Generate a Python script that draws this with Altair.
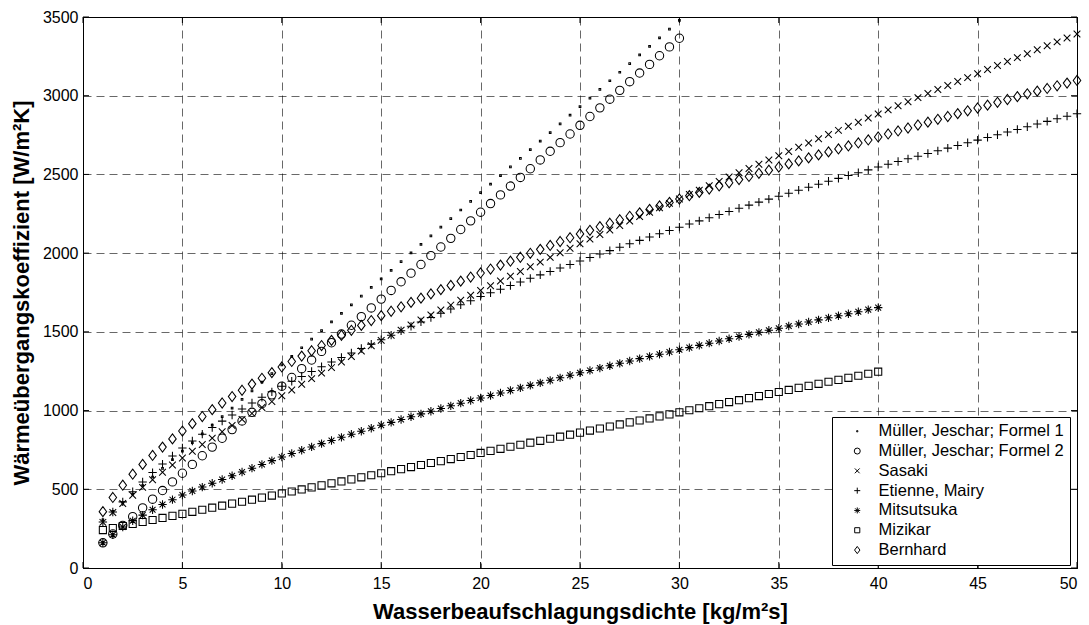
import altair as alt
import pandas as pd

SERIES = ["Müller, Jeschar; Formel 1", "Müller, Jeschar; Formel 2", "Sasaki",
          "Etienne, Mairy", "Mitsutsuka", "Mizikar", "Bernhard"]

# values read at x = 1, 1.5, 2, ... (step 0.5)
muller1 = [305, 360, 414, 469, 524, 578, 633, 688, 742, 797, 852, 907, 961, 1016, 1071,
           1125, 1180, 1235, 1290, 1344, 1399, 1454, 1508, 1563, 1618, 1672, 1727, 1782,
           1836, 1891, 1946, 2001, 2055, 2110, 2165, 2219, 2274, 2329, 2384, 2438, 2493,
           2548, 2602, 2657, 2712, 2766, 2821, 2876, 2930, 2985, 3040, 3095, 3149, 3204,
           3259, 3313, 3368, 3423, 3478]
muller2 = [160, 216, 271, 326, 382, 437, 492, 547, 602, 658, 713, 768, 824, 879, 934, 989,
           1044, 1100, 1155, 1210, 1266, 1321, 1376, 1431, 1486, 1542, 1597, 1652, 1708,
           1763, 1818, 1873, 1928, 1984, 2039, 2094, 2150, 2205, 2260, 2315, 2370, 2426,
           2481, 2536, 2592, 2647, 2702, 2757, 2812, 2868, 2923, 2978, 3034, 3089, 3144,
           3199, 3254, 3310, 3365]
sasaki = [290, 352, 410, 462, 512, 561, 608, 654, 699,
          742, 784, 825, 865, 905, 944, 982, 1020, 1057, 1094,
          1131, 1167, 1203, 1238, 1273, 1308, 1343, 1378, 1412, 1446,
          1479, 1511, 1543, 1575, 1607, 1639, 1670, 1701, 1732, 1763,
          1793, 1823, 1853, 1883, 1913, 1943, 1973, 2002, 2031, 2060,
          2089, 2118, 2147, 2176, 2204, 2232, 2260, 2288, 2316, 2344,
          2372, 2400, 2428, 2456, 2484, 2511, 2538, 2565, 2592, 2619,
          2646, 2673, 2700, 2727, 2754, 2780, 2806, 2832, 2858, 2884,
          2910, 2936, 2962, 2988, 3014, 3040, 3065, 3090, 3115, 3140,
          3166, 3192, 3217, 3242, 3267, 3292, 3317, 3342, 3367, 3392]
etienne = [292, 356, 420, 484, 546, 606, 660, 712, 762,
           807, 850, 892, 933, 972, 1010, 1048, 1084, 1119, 1154,
           1186, 1217, 1248, 1278, 1308, 1337, 1366, 1394, 1422, 1450,
           1479, 1507, 1535, 1563, 1591, 1618, 1645, 1672, 1698, 1725,
           1748, 1771, 1794, 1817, 1840, 1862, 1884, 1906, 1928, 1950,
           1972, 1994, 2016, 2038, 2060, 2081, 2102, 2123, 2144, 2165,
           2185, 2205, 2225, 2245, 2265, 2285, 2305, 2324, 2343, 2362,
           2381, 2400, 2419, 2438, 2457, 2475, 2493, 2511, 2529, 2547,
           2565, 2582, 2599, 2616, 2633, 2650, 2667, 2684, 2701, 2718,
           2735, 2752, 2769, 2786, 2803, 2820, 2837, 2854, 2870, 2886]
mitsutsuka = [160, 211, 260, 300, 336, 370, 403, 434, 464,
              489, 514, 538, 562, 586, 610, 634, 658, 682, 705,
              727, 748, 769, 790, 810, 830, 850, 869, 888, 907,
              925, 943, 961, 979, 996, 1013, 1030, 1047, 1064, 1080,
              1096, 1112, 1128, 1144, 1160, 1176, 1192, 1208, 1224, 1240,
              1255, 1270, 1285, 1300, 1315, 1330, 1344, 1358, 1372, 1386,
              1400, 1414, 1428, 1442, 1456, 1470, 1484, 1497, 1510, 1523,
              1537, 1550, 1563, 1576, 1589, 1602, 1615, 1628, 1641, 1654]
mizikar = [241, 254, 267, 280, 292, 305, 318, 331, 344, 357,
           370, 383, 396, 409, 421, 434, 447, 460, 473, 486,
           499, 512, 525, 538, 550, 563, 576, 589, 602, 615,
           628, 641, 654, 667, 679, 692, 705, 718, 731, 744,
           757, 770, 783, 796, 808, 821, 834, 847, 860, 873,
           886, 899, 912, 925, 937, 950, 963, 976, 989, 1002,
           1015, 1028, 1041, 1054, 1066, 1079, 1092, 1105, 1118, 1131,
           1144, 1157, 1170, 1183, 1195, 1208, 1221, 1234, 1247]
bernhard = [358, 448, 526, 596, 658, 715, 768, 820, 870,
            917, 962, 1006, 1048, 1089, 1129, 1168, 1205, 1241, 1277,
            1312, 1346, 1380, 1413, 1446, 1478, 1510, 1541, 1572, 1603,
            1631, 1659, 1687, 1714, 1741, 1768, 1795, 1822, 1848, 1874,
            1899, 1924, 1949, 1974, 1999, 2024, 2049, 2074, 2098, 2122,
            2145, 2168, 2190, 2212, 2234, 2256, 2278, 2300, 2322, 2344,
            2365, 2386, 2407, 2427, 2447, 2467, 2487, 2507, 2527, 2547,
            2567, 2586, 2605, 2624, 2643, 2662, 2681, 2700, 2719, 2738,
            2757, 2776, 2795, 2814, 2832, 2850, 2868, 2886, 2904, 2922,
            2940, 2958, 2976, 2994, 3012, 3029, 3046, 3063, 3080, 3097]

X_TICKS = [0, 5, 10, 15, 20, 25, 30, 35, 40, 45, 50]
Y_TICKS = [0, 500, 1000, 1500, 2000, 2500, 3000, 3500]
X_TITLE = "Wasserbeaufschlagungsdichte [kg/m²s]"
Y_TITLE = "Wärmeübergangskoeffizient [W/m²K]"

SHAPES = [
    "M-0.2,-0.2L0.2,-0.2L0.2,0.2L-0.2,0.2Z",                      # dot
    "circle",                                                      # o
    "M-0.8,-0.8L0.8,0.8M-0.8,0.8L0.8,-0.8",                        # x
    "M-1,0L1,0M0,-1L0,1",                                          # +
    "M-1,0L1,0M0,-1L0,1M-0.7,-0.7L0.7,0.7M-0.7,0.7L0.7,-0.7",      # *
    "M-0.85,-0.85L0.85,-0.85L0.85,0.85L-0.85,0.85Z",               # square
    "M0,-1.2L0.9,0L0,1.2L-0.9,0Z",                                 # diamond
]

rows = []
for name, vals in zip(SERIES, [muller1, muller2, sasaki, etienne, mitsutsuka, mizikar, bernhard]):
    for i, v in enumerate(vals):
        rows.append({"x": 1 + 0.5 * i, "y": v, "series": name})
df = pd.DataFrame(rows)

W, H = 994, 551
FONT = "Liberation Sans"
xscale = alt.Scale(domain=[0, 50], nice=False, zero=False)
yscale = alt.Scale(domain=[0, 3500], nice=False)
xaxis = alt.Axis(values=X_TICKS, title=X_TITLE, format="d", titlePadding=10, labelPadding=7)
yaxis = alt.Axis(values=Y_TICKS, title=Y_TITLE, format="d", titlePadding=9, labelPadding=5)

points = alt.Chart(df).mark_point(
    filled=False, size=70, strokeWidth=1.05, color="black", opacity=1
).encode(
    x=alt.X("x:Q", scale=xscale, axis=xaxis),
    y=alt.Y("y:Q", scale=yscale, axis=yaxis),
    shape=alt.Shape("series:N", scale=alt.Scale(domain=SERIES, range=SHAPES),
                    legend=alt.Legend(title=None, orient="none", legendX=749, legendY=400,
                                      fillColor="white", strokeColor="black", padding=6,
                                      labelFont=FONT, labelFontSize=16.5, labelColor="black",
                                      labelLimit=400,
                                      symbolSize=36, symbolStrokeWidth=1,
                                      symbolStrokeColor="black", rowPadding=2.8,
                                      symbolOffset=11, labelOffset=13)),
)

xt = pd.DataFrame({"x": X_TICKS})
yt = pd.DataFrame({"y": Y_TICKS})
tick_style = dict(color="black", strokeWidth=1)
bottom_ticks = alt.Chart(xt).mark_rule(**tick_style).encode(
    x=alt.X("x:Q", scale=xscale, axis=xaxis), y=alt.value(H), y2=alt.value(H - 6))
top_ticks = alt.Chart(xt).mark_rule(**tick_style).encode(
    x=alt.X("x:Q", scale=xscale, axis=xaxis), y=alt.value(0), y2=alt.value(6))
left_ticks = alt.Chart(yt).mark_rule(**tick_style).encode(
    y=alt.Y("y:Q", scale=yscale, axis=yaxis), x=alt.value(0), x2=alt.value(6))
right_ticks = alt.Chart(yt).mark_rule(**tick_style).encode(
    y=alt.Y("y:Q", scale=yscale, axis=yaxis), x=alt.value(W), x2=alt.value(W - 6))

chart = alt.layer(points, bottom_ticks, top_ticks, left_ticks, right_ticks).properties(
    width=W, height=H,
    autosize=alt.AutoSizeParams(type="none"),
    padding={"left": 83, "top": 17, "right": 12, "bottom": 57},
    background="white",
).configure_view(
    stroke="black", strokeWidth=1
).configure_axis(
    grid=True, gridColor="black", gridDash=[8, 5], gridWidth=0.7, gridOpacity=0.85,
    ticks=False, domain=True, domainColor="black", domainWidth=1,
    labelFont=FONT, labelFontSize=16, labelColor="black",
    titleFont=FONT, titleFontSize=22, titleFontWeight="bold", titleColor="black",
)

chart.save("out.html", embed_options={"renderer": "svg", "actions": False})
